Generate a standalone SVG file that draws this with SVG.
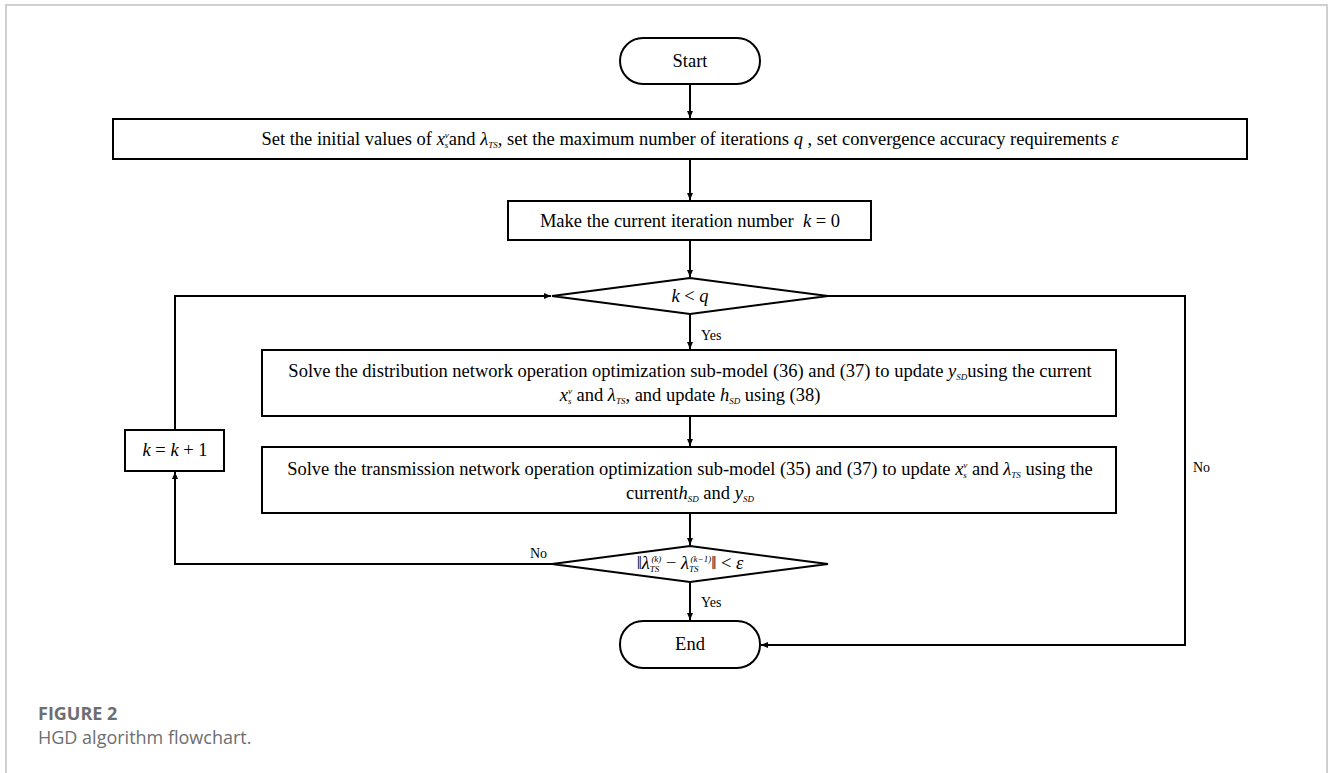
<svg xmlns="http://www.w3.org/2000/svg" width="1330" height="773" viewBox="0 0 1330 773">
<defs>
<marker id="ah" markerWidth="8" markerHeight="8" refX="7" refY="4" orient="auto" markerUnits="userSpaceOnUse">
<path d="M0,1 L7,4 L0,7 z" fill="#000"/>
</marker>
<style>
.n{fill:#fff;stroke:#000;stroke-width:2}
.c{fill:none;stroke:#000;stroke-width:2}
.t{font-family:"Liberation Serif","Times New Roman",serif;font-size:18.5px;fill:#000}
.l{font-family:"Liberation Serif","Times New Roman",serif;font-size:14px;fill:#000}
.i{font-style:italic}
.s{font-size:9px;font-style:italic}
.cap{font-family:"Open Sans","Lato",sans-serif;fill:#6d6e71}
</style>
</defs>
<rect width="1330" height="773" fill="#fff"/>
<path d="M6,773 V5 H1327 V773" fill="none" stroke="#cfcfcf" stroke-width="2"/>

<g id="start">
<rect class="n" x="620" y="38" width="140" height="46" rx="23"/>
<text class="t" x="690" y="67" text-anchor="middle">Start</text>
</g>

<g id="init">
<rect class="n" x="113" y="119" width="1134" height="40"/>
<text class="t" x="690" y="145" text-anchor="middle">Set the initial values of <tspan class="i">x</tspan><tspan class="s" dy="3">s</tspan><tspan class="s" dx="-3.5" dy="-10">v</tspan><tspan dy="7">and </tspan><tspan class="i">λ</tspan><tspan class="s" dy="3">TS</tspan><tspan dy="-3">, set the maximum number of iterations </tspan><tspan class="i">q</tspan> , set convergence accuracy requirements <tspan class="i">ε</tspan></text>
</g>

<g id="k0">
<rect class="n" x="508" y="201" width="363" height="39"/>
<text class="t" x="690" y="227" text-anchor="middle" xml:space="preserve">Make the current iteration number  <tspan class="i">k</tspan> = 0</text>
</g>

<g id="cond1">
<polygon class="n" points="552,296 690,278 828,296 690,314"/>
<text class="t" x="690" y="302" text-anchor="middle"><tspan class="i">k</tspan> &lt; <tspan class="i">q</tspan></text>
</g>

<g id="dist">
<rect class="n" x="262" y="350" width="854" height="66"/>
<text class="t" x="690" y="377" text-anchor="middle">Solve the distribution network operation optimization sub-model (36) and (37) to update <tspan class="i">y</tspan><tspan class="s" dy="3">SD</tspan><tspan dy="-3">using the current</tspan></text>
<text class="t" x="690" y="401" text-anchor="middle"><tspan class="i">x</tspan><tspan class="s" dy="3">s</tspan><tspan class="s" dx="-3.5" dy="-10">v</tspan><tspan dy="7"> and </tspan><tspan class="i">λ</tspan><tspan class="s" dy="3">TS</tspan><tspan dy="-3">, and update </tspan><tspan class="i">h</tspan><tspan class="s" dy="3">SD</tspan><tspan dy="-3"> using (38)</tspan></text>
</g>

<g id="trans">
<rect class="n" x="262" y="447" width="854" height="66"/>
<text class="t" x="690" y="475" text-anchor="middle">Solve the transmission network operation optimization sub-model (35) and (37) to update <tspan class="i">x</tspan><tspan class="s" dy="3">s</tspan><tspan class="s" dx="-3.5" dy="-10">v</tspan><tspan dy="7"> and </tspan><tspan class="i">λ</tspan><tspan class="s" dy="3">TS</tspan><tspan dy="-3"> using the</tspan></text>
<text class="t" x="690" y="499" text-anchor="middle">current<tspan class="i">h</tspan><tspan class="s" dy="3">SD</tspan><tspan dy="-3"> and </tspan><tspan class="i">y</tspan><tspan class="s" dy="3">SD</tspan></text>
</g>

<g id="cond2">
<polygon class="n" points="552,564 690,546 828,564 690,582"/>
<text class="t" x="690" y="569" text-anchor="middle" font-size="13.5">‖<tspan class="i">λ</tspan><tspan class="s" dy="3" font-size="8">TS</tspan><tspan class="s" dx="-8" dy="-10" font-size="8">(k)</tspan><tspan dy="7"> − </tspan><tspan class="i">λ</tspan><tspan class="s" dy="3" font-size="8">TS</tspan><tspan class="s" dx="-8" dy="-10" font-size="8">(k−1)</tspan><tspan dy="7">‖ &lt; </tspan><tspan class="i">ε</tspan></text>
</g>

<g id="end">
<rect class="n" x="620" y="621" width="140" height="47" rx="23"/>
<text class="t" x="690" y="650" text-anchor="middle">End</text>
</g>

<g id="inc">
<rect class="n" x="125" y="430" width="99" height="41"/>
<text class="t" x="175" y="456" text-anchor="middle" font-size="17"><tspan class="i">k</tspan> = <tspan class="i">k</tspan> + 1</text>
</g>

<g id="connectors">
<line class="c" x1="690" y1="84" x2="690" y2="118" marker-end="url(#ah)"/>
<line class="c" x1="690" y1="159" x2="690" y2="200" marker-end="url(#ah)"/>
<line class="c" x1="690" y1="240" x2="690" y2="277" marker-end="url(#ah)"/>
<line class="c" x1="690" y1="314" x2="690" y2="349" marker-end="url(#ah)"/>
<line class="c" x1="690" y1="416" x2="690" y2="446" marker-end="url(#ah)"/>
<line class="c" x1="690" y1="513" x2="690" y2="545" marker-end="url(#ah)"/>
<line class="c" x1="690" y1="582" x2="690" y2="620" marker-end="url(#ah)"/>
<polyline class="c" points="552,564 175,564 175,472" marker-end="url(#ah)"/>
<polyline class="c" points="175,430 175,296 551,296" marker-end="url(#ah)"/>
<polyline class="c" points="828,296 1185,296 1185,645 761,645" marker-end="url(#ah)"/>
<text class="l" x="701" y="340">Yes</text>
<text class="l" x="701" y="607">Yes</text>
<text class="l" x="530" y="558">No</text>
<text class="l" x="1193" y="472">No</text>
</g>

<text class="cap" x="38" y="720" font-size="18" font-weight="bold">FIGURE 2</text>
<text class="cap" x="38" y="744" font-size="18">HGD algorithm flowchart.</text>
</svg>
